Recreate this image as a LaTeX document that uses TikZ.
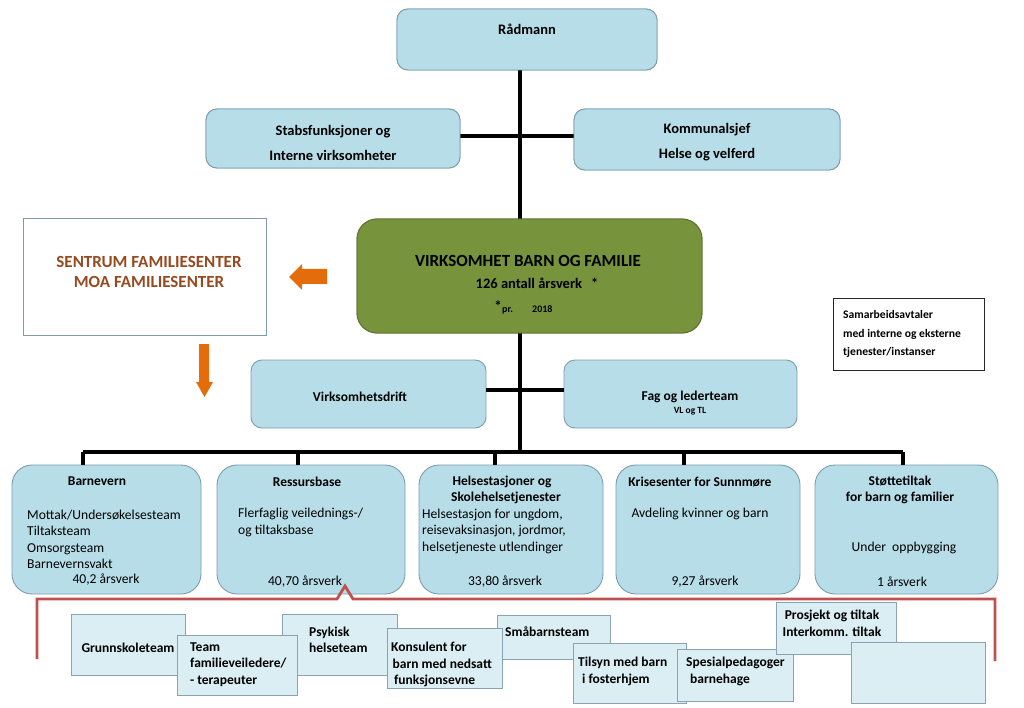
\documentclass[tikz,border=0pt]{standalone}
\usepackage{fontspec}
\setmainfont{Carlito}
\definecolor{lblue}{HTML}{B7DEE8}
\definecolor{lbord}{HTML}{7E9CAE}
\definecolor{sblue}{HTML}{DAEEF3}
\definecolor{sbord}{HTML}{8AA2B2}
\definecolor{vgreen}{HTML}{77933C}
\definecolor{gbord}{HTML}{5B722E}
\definecolor{aorange}{HTML}{E46C0A}
\definecolor{tbrown}{HTML}{974A20}
\definecolor{bred}{HTML}{C0504D}
\tikzset{
  box/.style={rectangle, draw=lbord, fill=lblue, line width=0.9pt, inner sep=0pt},
  topbox/.style={box, rounded corners=11pt},
  botbox/.style={box, rounded corners=20pt},
  greenbox/.style={rectangle, rounded corners=20pt, draw=gbord, fill=vgreen, line width=0.9pt, inner sep=0pt},
  plainbox/.style={rectangle, draw=#1, fill=white, line width=0.9pt, inner sep=0pt},
  smallbox/.style={rectangle, draw=sbord, fill=sblue, line width=0.9pt, inner sep=0pt},
  conn/.style={draw=black, line width=3.6pt},
  redline/.style={draw=bred, line width=2.8pt, line join=miter},
  arrowfill/.style={fill=aorange, draw=none},
  bt/.style={inner sep=0pt, font=\bfseries\fontsize{14.5}{17.5}\selectfont},
  st/.style={inner sep=0pt, font=\bfseries\fontsize{13.5}{16.5}\selectfont, align=left},
  rt/.style={inner sep=0pt, font=\fontsize{13.6}{16.5}\selectfont, align=left},
}
\begin{document}
\begin{tikzpicture}[x=1pt,y=-1pt]
\useasboundingbox (0,0) rectangle (1024,708);
\fill[white] (0,0) rectangle (1024,708);

% spine coordinates
\coordinate (spine) at (520,0);
\coordinate (jA) at (520,136);
\coordinate (jB) at (520,390);
\coordinate (jC) at (520,452);
\coordinate (d1) at (83,452);
\coordinate (d2) at (298,452);
\coordinate (d3) at (495,452);
\coordinate (d4) at (684,452);
\coordinate (d5) at (903,452);

% top boxes
\node[topbox, minimum width=260pt, minimum height=61pt] (rad) at (527,39.5) {};
\node[topbox, minimum width=254pt, minimum height=59pt] (stab) at (333,138.5) {};
\node[topbox, minimum width=266pt, minimum height=61pt] (komm) at (707,139.5) {};
\node[greenbox, minimum width=345pt, minimum height=114pt] (green) at (529.5,276) {};

\draw[conn] (rad.south -| spine) -- (green.north -| spine);
\draw[conn] (stab.east |- jA) -- (komm.west |- jA);
\draw[conn] (green.south -| spine) -- (jC);
\draw[conn] (d1) -- (d5);

\node[topbox, minimum width=235pt, minimum height=68pt] (vd) at (368.5,394) {};
\node[topbox, minimum width=233pt, minimum height=68pt] (fag) at (680.5,394) {};
\draw[conn] (vd.east |- jB) -- (fag.west |- jB);

% redraw boxes on top of connector ends
\node[topbox, minimum width=260pt, minimum height=61pt] at (rad) {};
\node[topbox, minimum width=254pt, minimum height=59pt] at (stab) {};
\node[topbox, minimum width=266pt, minimum height=61pt] at (komm) {};
\node[greenbox, minimum width=345pt, minimum height=114pt] at (green) {};

\node[plainbox=lbord, minimum width=243pt, minimum height=117pt] (sentrum) at (144.5,276.5) {};
\node[plainbox=black!85, minimum width=151pt, minimum height=72pt, line width=0.8pt] (samarb) at (908.5,334) {};

% bottom boxes
\node[botbox, minimum width=189pt, minimum height=129pt] (b1) at (106.5,529.5) {};
\node[botbox, minimum width=188pt, minimum height=129pt] (b2) at (311,529.5) {};
\node[botbox, minimum width=184pt, minimum height=129pt] (b3) at (511,529.5) {};
\node[botbox, minimum width=184pt, minimum height=129pt] (b4) at (708,529.5) {};
\node[botbox, minimum width=183pt, minimum height=129pt] (b5) at (906.5,529.5) {};
\draw[conn] (d1) -- (d1 |- b1.north);
\draw[conn] (d2) -- (d2 |- b2.north);
\draw[conn] (d3) -- (d3 |- b3.north);
\draw[conn] (d4) -- (d4 |- b4.north);
\draw[conn] (d5) -- (d5 |- b5.north);

% orange arrows
\fill[arrowfill] (327,269) -- (302,269) -- (302,264) -- (289,277) -- (302,290) -- (302,284) -- (327,284) -- cycle;
\fill[arrowfill] (199,344) -- (209,344) -- (209,382) -- (213,382) -- (204.5,397) -- (196,382) -- (199,382) -- cycle;

% red bracket
\coordinate (r1) at (37,659);
\coordinate (r2) at (37,599);
\coordinate (r3) at (337,599);
\coordinate (r4) at (345,586);
\coordinate (r5) at (353,599);
\coordinate (r6) at (995,599);
\coordinate (r7) at (995,661);
\draw[redline] (r1) -- (r2) -- (r3) -- (r4) -- (r5) -- (r6) -- (r7);

% small boxes
\node[smallbox, minimum width=114pt, minimum height=61pt] (g1) at (128,644.5) {};
\node[smallbox, minimum width=115pt, minimum height=61pt] (g3) at (339.5,644.5) {};
\node[smallbox, minimum width=120pt, minimum height=60pt] (g2) at (237,665) {};
\node[smallbox, minimum width=113pt, minimum height=44pt] (g5) at (553.5,637) {};
\node[smallbox, minimum width=115pt, minimum height=60pt] (g4) at (444.5,658) {};
\node[smallbox, minimum width=113pt, minimum height=60pt] (g6) at (629.5,673) {};
\node[smallbox, minimum width=116pt, minimum height=52pt] (g7) at (735,675) {};
\node[smallbox, minimum width=120pt, minimum height=52pt] (g8) at (836,628) {};
\node[smallbox, minimum width=134pt, minimum height=61pt] (g9) at (918,672.5) {};

% texts top
\node[bt] (trad) at (527,29) {Rådmann};
\node[bt, align=center, font=\bfseries\fontsize{14.5}{25}\selectfont] (tstab) at (333,142.5) {Stabsfunksjoner og\\Interne virksomheter};
\node[bt, align=center, font=\bfseries\fontsize{14.5}{25}\selectfont] (tkomm) at (707,142.5) {Kommunalsjef\\Helse og velferd};
\node[bt, font=\bfseries\fontsize{17}{20}\selectfont] (tg1) at (528,261) {VIRKSOMHET BARN OG FAMILIE};
\node[bt] (tg2) at (537,283) {126 antall årsverk\hspace{9pt}*};
\node[bt, font=\bfseries\fontsize{15}{15}\selectfont] (tg3) at (498,306) {*};
\node[bt, font=\bfseries\fontsize{10}{10}\selectfont, anchor=west] (tg4) at (502,310.5) {pr.};
\node[bt, font=\bfseries\fontsize{10}{10}\selectfont, anchor=west] (tg5) at (532,309) {2018};
\node[bt, align=center, text=tbrown, font=\bfseries\fontsize{17}{20}\selectfont] (tsent) at (149,272) {SENTRUM FAMILIESENTER\\MOA FAMILIESENTER};
\node[bt, align=left, anchor=west, font=\bfseries\fontsize{11.6}{18.5}\selectfont] (tsam) at (843,334) {Samarbeidsavtaler\\med interne og eksterne\\tjenester/instanser};
\node[bt, font=\bfseries\fontsize{13.5}{16}\selectfont] (tvd) at (360,397) {Virksomhetsdrift};
\node[bt, font=\bfseries\fontsize{13.5}{16}\selectfont] (tfag) at (690,397) {Fag og lederteam};
\node[bt, font=\bfseries\fontsize{9.5}{10}\selectfont] (tfag2) at (690,411) {VL og TL};

% bottom box texts
\node[st] (h1) at (97,481) {Barnevern};
\node[rt, anchor=west] (l1) at (27,539.5) {Mottak/Undersøkelsesteam\\Tiltaksteam\\Omsorgsteam\\Barnevernsvakt};
\node[rt] (a1) at (106,580) {40,2 årsverk};

\node[st] (h2) at (307,482) {Ressursbase};
\node[rt, anchor=west] (l2) at (238,522.5) {Flerfaglig veilednings-/\\og tiltaksbase};
\node[rt] (a2) at (305,582) {40,70 årsverk};

\node[st, align=center] (h3) at (502,490) {Helsestasjoner og\\\hspace*{8pt}Skolehelsetjenester};
\node[rt, anchor=west] (l3) at (422,531) {Helsestasjon for ungdom,\\reisevaksinasjon, jordmor,\\helsetjeneste utlendinger};
\node[rt] (a3) at (505,582) {33,80 årsverk};

\node[st] (h4) at (700,482) {Krisesenter for Sunnmøre};
\node[rt] (l4) at (700,514) {Avdeling kvinner og barn};
\node[rt] (a4) at (705,582) {9,27 årsverk};

\node[st, align=center] (h5) at (900,490) {Støttetiltak\\for barn og familier};
\node[rt] (l5) at (904,548) {Under\hspace{6pt}oppbygging};
\node[rt] (a5) at (902,582) {1 årsverk};

% small box texts
\node[st] (s1) at (128,648) {Grunnskoleteam};
\node[st, anchor=west] (s2) at (190,664.5) {Team\\familieveiledere/\\- terapeuter};
\node[st, anchor=west] (s3) at (309,640) {Psykisk\\helseteam};
\node[st, anchor=west] (s4) at (391,664.5) {Konsulent for\\\hspace*{1.5pt}barn med nedsatt\\\hspace*{3pt}funksjonsevne};
\node[st, anchor=west] (s5) at (505,632) {Småbarnsteam};
\node[st, anchor=west] (s6) at (578,671.5) {Tilsyn med barn\\\hspace*{4pt}i fosterhjem};
\node[st, anchor=west] (s7) at (686,671.5) {Spesialpedagoger\\\hspace*{4pt}barnehage};
\node[st, align=center] (s8) at (832,623.5) {Prosjekt og tiltak\\Interkomm. tiltak};
\end{tikzpicture}
\end{document}
